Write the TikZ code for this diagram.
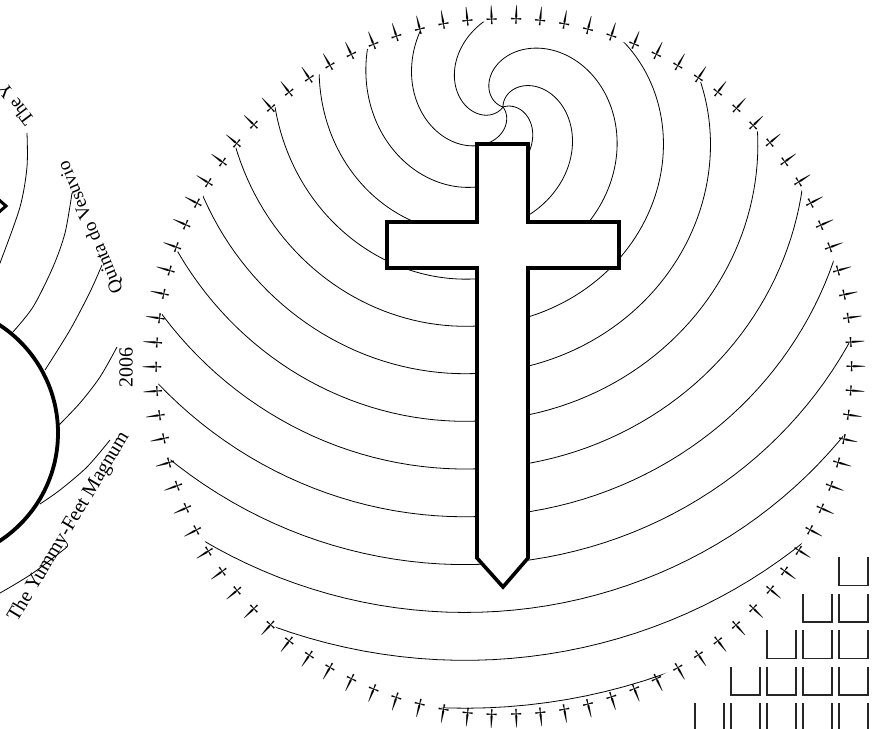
\documentclass[tikz,border=0pt]{standalone}
\usepackage{fontspec}
\setmainfont{Liberation Serif}
\begin{document}
\begin{tikzpicture}[x=1pt,y=-1pt,
  spiral/.style={line width=0.8pt},
  dag/.style={inner sep=0pt, font=\fontsize{23}{23}\selectfont},
  crossline/.style={line width=3.6pt, fill=white, line join=miter},
  boxline/.style={line width=1.1pt, black!85},
  lbl/.style={inner sep=0pt, font=\fontsize{19}{22}\selectfont},
  lblb/.style={inner sep=0pt, font=\fontsize{20}{23}\selectfont},
  conn/.style={line width=0.8pt}]
\useasboundingbox (0,0) rectangle (885,728);
\coordinate (S) at (503,107);
\coordinate (O) at (504,367);
% spiral arms clipped to the ring
\begin{scope}
\clip (O) circle[radius=346pt];
\foreach \p in {90,162,234,306,378} {
  \draw[spiral] plot[domain=0:16.6, samples=500, variable=\t]
    ({503+38.2*\t*cos(\p-deg(\t))},{107-38.2*\t*sin(\p-deg(\t))});
}
\end{scope}
% ring of daggers
\foreach \k in {0,...,89} {
  \pgfmathsetmacro\ang{4*\k}
  \pgfmathsetmacro\rot{\ang+90}
  \node[dag, rotate=\rot] (d\k) at ({504+352*cos(\ang)},{367-352*sin(\ang)}) {†};
}
% the cross
\draw[crossline] (477,144) -- (528,144) -- (528,222) -- (619,222) -- (619,268)
  -- (528,268) -- (528,558) -- (503,587) -- (477,558) -- (477,268) -- (387,268)
  -- (387,222) -- (477,222) -- cycle;
% staircase of open boxes
\foreach \r in {1,...,5} {
  \foreach \c in {1,...,\r} {
    \pgfmathsetmacro\xr{868-36*(\c-1)}
    \pgfmathsetmacro\xl{\xr-29}
    \pgfmathsetmacro\yt{557+36.5*(\r-1)}
    \pgfmathsetmacro\yb{\yt+28.5}
    \draw[boxline] (\xl,\yt) -- (\xl,\yb) -- (\xr,\yb) -- (\xr,\yt);
  }
}
% left cluster
\node[draw, circle, line width=3.8pt, minimum size=258pt, inner sep=0pt] (C) at (-71,433) {};
\draw[line width=3pt] (-2,199) -- (6,206) -- (-2,213);
\node[lbl, rotate=127, anchor=west] (tY) at (30,124) {The Y};
\node[lbl, rotate=113] (tQ) at (91,227) {Quinta do Vesuvio};
\node[lblb, rotate=90] (t6) at (126,367) {2006};
\node[lblb, rotate=59, anchor=base west] (tM) at (17,623) {The Yummy-Feet Magnum};
\draw[conn] plot[smooth] coordinates {(27,133) (27,167) (20,207) (0,263) (-15,300)};
\draw[conn] plot[smooth] coordinates {(72,193) (65,233) (53,267) (33,307) (12,333)};
\draw[conn] plot[smooth] coordinates {(102,265) (90,292) (70,330) (45,370)};
\draw[conn] plot[smooth] coordinates {(117,347) (100,377) (80,403) (58,426)};
\draw[conn] plot[smooth] coordinates {(110,440) (87,467) (60,490) (40,504)};
\draw[conn] plot[smooth] coordinates {(67,547) (33,573) (0,593) (-15,600)};
\end{tikzpicture}
\end{document}
